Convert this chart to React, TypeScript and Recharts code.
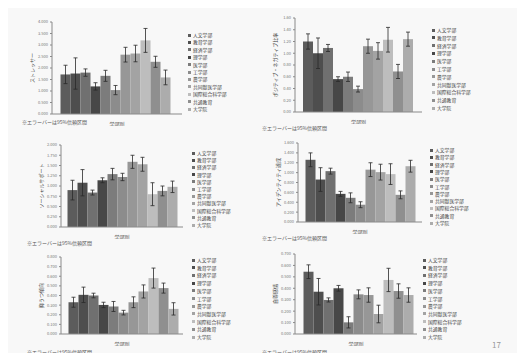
import { BarChart, Bar, XAxis, YAxis, ErrorBar } from 'recharts';

const FACULTIES = [
    '人文学部', '教育学部', '経済学部', '理学部', '医学部', '工学部',
    '農学部', '共同獣医学部', '国際総合科学部', '共通教育', '大学院',
];
const CATEGORY = '学部別';
const CAPTION = '※エラーバーは95%信頼区間';

// chart 1
const C1_VALUES = [1.72, 1.76, 1.80, 1.20, 1.66, 1.04, 2.58, 2.63, 3.20, 2.27, 1.59];
const C1_ERRORS = [0.40, 0.68, 0.16, 0.16, 0.24, 0.20, 0.32, 0.36, 0.52, 0.24, 0.32];
const C1_TICKS = [0, 0.5, 1, 1.5, 2, 2.5, 3, 3.5, 4];
// chart 2
const C2_VALUES = [1.20, 1.00, 1.09, 0.56, 0.60, 0.39, 1.12, 1.04, 1.23, 0.69, 1.24];
const C2_ERRORS = [0.13, 0.26, 0.06, 0.04, 0.08, 0.05, 0.12, 0.14, 0.21, 0.12, 0.12];
const C2_TICKS = [0, 0.2, 0.4, 0.6, 0.8, 1.0, 1.2, 1.4, 1.6];
// chart 3
const C3_VALUES = [0.90, 1.08, 0.84, 1.14, 1.29, 1.22, 1.59, 1.53, 0.80, 0.88, 0.98];
const C3_ERRORS = [0.24, 0.32, 0.06, 0.06, 0.14, 0.09, 0.16, 0.17, 0.28, 0.12, 0.14];
const C3_TICKS = [0, 0.25, 0.5, 0.75, 1, 1.25, 1.5, 1.75, 2];
// chart 4
const C4_VALUES = [1.26, 0.86, 1.03, 0.57, 0.49, 0.35, 1.06, 1.01, 0.97, 0.55, 1.13];
const C4_ERRORS = [0.14, 0.24, 0.06, 0.05, 0.10, 0.06, 0.14, 0.16, 0.21, 0.08, 0.12];
const C4_TICKS = [0, 0.2, 0.4, 0.6, 0.8, 1.0, 1.2, 1.4, 1.6];
// chart 5
const C5_VALUES = [0.330, 0.407, 0.400, 0.302, 0.286, 0.222, 0.330, 0.442, 0.581, 0.477, 0.261];
const C5_ERRORS = [0.052, 0.080, 0.024, 0.028, 0.052, 0.024, 0.056, 0.068, 0.104, 0.052, 0.064];
const C5_TICKS = [0, 0.1, 0.2, 0.3, 0.4, 0.5, 0.6, 0.7, 0.8];
// chart 6
const C6_VALUES = [0.545, 0.370, 0.298, 0.400, 0.102, 0.347, 0.341, 0.175, 0.473, 0.376, 0.341];
const C6_ERRORS = [0.060, 0.116, 0.018, 0.025, 0.049, 0.039, 0.063, 0.077, 0.102, 0.063, 0.063];
const C6_TICKS = [0, 0.1, 0.2, 0.3, 0.4, 0.5, 0.6, 0.7];

const BAR_COLORS = [
    '#5c5c5c', '#4e4e4e', '#707070', '#474747', '#7c7c7c', '#8c8c8c',
    '#979797', '#a3a3a3', '#bdbdbd', '#8f8f8f', '#acacac',
];

const FONT = "'Noto Sans CJK JP', 'Noto Sans', sans-serif";

interface PanelProps {
    values: number[];
    errors: number[];
    ticks: number[];
    decimals: number;
    yLabel: string;
    axisX: number;
    top: number;
    bottom: number;
    xEnd: number;
    barsStart: number;
    barsEnd: number;
    legendX: number;
    legendY: number;
    legendStep: number;
    captionX: number;
    captionY: number;
}

function Panel(p: PanelProps) {
    const YW = 30;
    const MT = 4;
    const XH = 12;
    const plotW = p.xEnd - p.axisX;
    const plotH = p.bottom - p.top;
    const gap = ((p.barsStart - p.axisX) + (p.xEnd - p.barsEnd)) / 2;

    const row: Record<string, string | number> = { name: CATEGORY };
    p.values.forEach((v, i) => {
        row[`s${i}`] = v;
        row[`e${i}`] = p.errors[i];
    });

    return (
        <>
            <div style={{ position: 'absolute', left: p.axisX - YW, top: p.top - MT }}>
                <BarChart
                    width={YW + plotW + 2}
                    height={MT + plotH + XH}
                    data={[row]}
                    margin={{ top: MT, right: 2, left: 0, bottom: 0 }}
                    barGap={0}
                    barCategoryGap={gap}
                    style={{ fontFamily: FONT }}
                >
                    <XAxis
                        dataKey="name"
                        height={XH}
                        tick={{ fontSize: 5, fill: '#444' }}
                        axisLine={{ stroke: '#8a8a8a' }}
                        tickLine={false}
                    />
                    <YAxis
                        width={YW}
                        domain={[0, p.ticks[p.ticks.length - 1]]}
                        ticks={p.ticks}
                        interval={0}
                        tickFormatter={(v: number) => v.toFixed(p.decimals)}
                        tick={{ fontSize: 4, fill: '#777' }}
                        tickSize={2}
                        axisLine={{ stroke: '#8a8a8a' }}
                        tickLine={{ stroke: '#8a8a8a' }}
                        label={{
                            value: p.yLabel,
                            angle: -90,
                            position: 'insideLeft',
                            offset: 10,
                            fontSize: 5,
                            fill: '#444',
                            style: { textAnchor: 'middle' },
                        }}
                    />
                    {FACULTIES.map((f, i) => (
                        <Bar key={f} dataKey={`s${i}`} name={f} fill={BAR_COLORS[i]} isAnimationActive={false}>
                            <ErrorBar dataKey={`e${i}`} width={2} stroke="#2a2a2a" strokeWidth={0.8} direction="y" />
                        </Bar>
                    ))}
                </BarChart>
            </div>
            {FACULTIES.map((f, i) => (
                <div
                    key={f}
                    style={{
                        position: 'absolute',
                        left: p.legendX,
                        top: p.legendY + i * p.legendStep - 3,
                        height: 6,
                        lineHeight: '6px',
                        display: 'flex',
                        alignItems: 'center',
                        whiteSpace: 'nowrap',
                    }}
                >
                    <div style={{ width: 3, height: 3, background: BAR_COLORS[i], marginRight: 2 }} />
                    <span style={{ fontSize: 4.8, color: '#444', fontFamily: FONT }}>{f}</span>
                </div>
            ))}
            <div
                style={{
                    position: 'absolute',
                    left: p.captionX,
                    top: p.captionY - 3,
                    fontSize: 5,
                    lineHeight: '6px',
                    color: '#555',
                    fontFamily: FONT,
                    whiteSpace: 'nowrap',
                }}
            >
                {CAPTION}
            </div>
        </>
    );
}

export default function App() {
    return (
        <div
            style={{
                position: 'relative',
                width: 525,
                height: 361,
                margin: -8,
                background: '#f8f8f8',
                overflow: 'hidden',
                fontFamily: FONT,
            }}
        >
            <div
                style={{
                    position: 'absolute',
                    left: 16,
                    top: 0,
                    width: 456,
                    height: 6,
                    overflow: 'hidden',
                    background: 'linear-gradient(to right, #4c4c4c, #7a7a7a 50%, #a8a8a8)',
                }}
            >
                <div
                    style={{
                        position: 'absolute',
                        left: 104,
                        top: -10,
                        fontSize: 14,
                        color: '#fff',
                        letterSpacing: 6,
                        whiteSpace: 'nowrap',
                    }}
                >
                    学部別の比較分析(2)
                </div>
            </div>

            <Panel values={C1_VALUES} errors={C1_ERRORS} ticks={C1_TICKS} decimals={3} yLabel="ストレッサー"
                axisX={52} top={22} bottom={114} xEnd={182} barsStart={60} barsEnd={173}
                legendX={188} legendY={35} legendStep={7.4} captionX={22} captionY={122} />
            <Panel values={C2_VALUES} errors={C2_ERRORS} ticks={C2_TICKS} decimals={2} yLabel="ポジティブ・ネガティブ比率"
                axisX={295} top={18} bottom={112} xEnd={422} barsStart={303} barsEnd={414}
                legendX={432} legendY={30} legendStep={7.8} captionX={262} captionY={128} />
            <Panel values={C3_VALUES} errors={C3_ERRORS} ticks={C3_TICKS} decimals={3} yLabel="ソーシャルサポート"
                axisX={61} top={145} bottom={227} xEnd={183} barsStart={68} barsEnd={177}
                legendX={192} legendY={153} legendStep={7.2} captionX={27} captionY={243} />
            <Panel values={C4_VALUES} errors={C4_ERRORS} ticks={C4_TICKS} decimals={3} yLabel="アイデンティティ達成"
                axisX={298} top={143} bottom={222} xEnd={422} barsStart={305} barsEnd={414}
                legendX={430} legendY={150} legendStep={7.3} captionX={262} captionY={238} />
            <Panel values={C5_VALUES} errors={C5_ERRORS} ticks={C5_TICKS} decimals={3} yLabel="抑うつ傾向"
                axisX={61} top={257} bottom={334} xEnd={183} barsStart={69} barsEnd={176}
                legendX={192} legendY={260} legendStep={7.7} captionX={27} captionY={352} />
            <Panel values={C6_VALUES} errors={C6_ERRORS} ticks={C6_TICKS} decimals={3} yLabel="自尊感情"
                axisX={295} top={254} bottom={334} xEnd={417} barsStart={303} barsEnd={408}
                legendX={423} legendY={260} legendStep={7.7} captionX={262} captionY={352} />

            <div style={{ position: 'absolute', left: 492, top: 339, fontSize: 8, color: '#999' }}>17</div>
        </div>
    );
}
